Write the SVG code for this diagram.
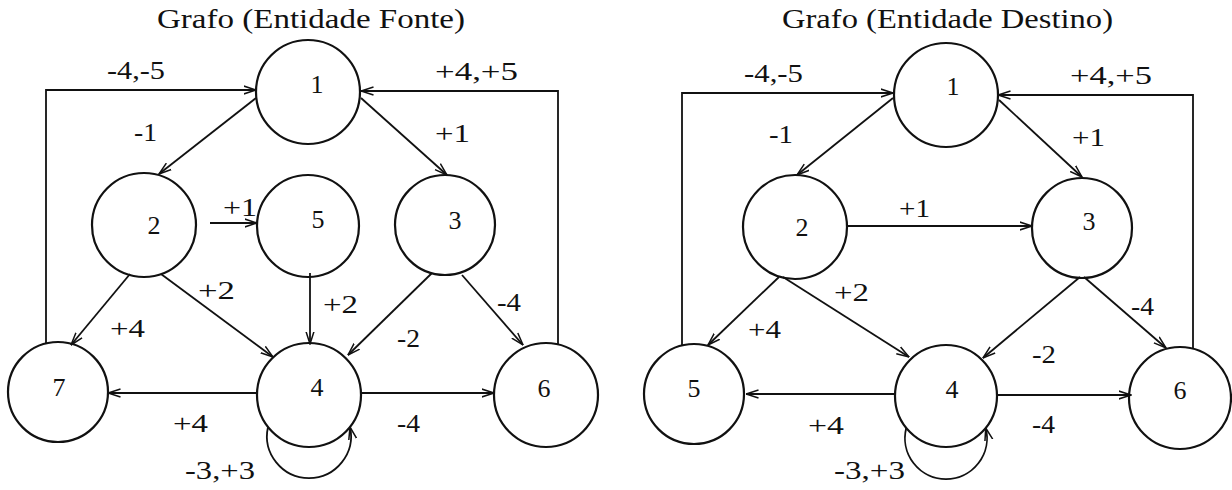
<svg xmlns="http://www.w3.org/2000/svg" width="1232" height="490" viewBox="0 0 1232 490">
<defs>
<style>
.node{fill:none;stroke:#111;stroke-width:2.2}
.edge{fill:none;stroke:#111;stroke-width:1.8;marker-end:url(#arr)}
text{font-family:"Liberation Serif","Times New Roman",serif;fill:#111}
.title{font-size:27px}
.lbl{font-size:26px}
.num{font-size:26px;text-anchor:middle}
</style>
<marker id="arr" viewBox="0 0 13 10" refX="12.5" refY="5" markerWidth="13" markerHeight="10" markerUnits="userSpaceOnUse" orient="auto">
<path d="M0,1 L12.5,5 L0,9" fill="none" stroke="#111" stroke-width="1.5"/>
</marker>
</defs>
<rect width="1232" height="490" fill="#ffffff"/>

<text class="title" x="157" y="28" textLength="308" lengthAdjust="spacingAndGlyphs">Grafo (Entidade Fonte)</text>
<text class="title" x="782" y="28" textLength="331" lengthAdjust="spacingAndGlyphs">Grafo (Entidade Destino)</text>

<g id="connectors">
<path class="edge" d="M46,344 V90 H256"/>
<path class="edge" d="M558,345 V91 H361"/>
<path class="edge" d="M256,98 L159,174"/>
<path class="edge" d="M361,98 L447,175"/>
<path class="edge" d="M210,223 L257,223"/>
<path class="edge" d="M130,274 L71,345"/>
<path class="edge" d="M161,274 L273,357"/>
<path class="edge" d="M310,273 L310,344"/>
<path class="edge" d="M432,273 L348,355"/>
<path class="edge" d="M462,275 L523,345"/>
<path class="edge" d="M257,393 L108,393"/>
<path class="edge" d="M361,393 L494,393"/>
<path class="edge" d="M268,427 A42,42 0 1 0 350,427"/>
<path class="edge" d="M682,345 V93 H893"/>
<path class="edge" d="M1193,348 V95 H998"/>
<path class="edge" d="M893,98 L797,175"/>
<path class="edge" d="M999,100 L1082,177"/>
<path class="edge" d="M848,226 L1032,226"/>
<path class="edge" d="M779,277 L708,345"/>
<path class="edge" d="M783,277 L909,357"/>
<path class="edge" d="M1080,277 L983,358"/>
<path class="edge" d="M1084,277 L1166,348"/>
<path class="edge" d="M894,394 L746,394"/>
<path class="edge" d="M998,395 L1131,395"/>
<path class="edge" d="M906.25,428 A41,41 0 1 0 985.75,428"/>
</g>

<g id="edge-labels">
<text class="lbl" x="107" y="79" textLength="58" lengthAdjust="spacingAndGlyphs">-4,-5</text>
<text class="lbl" x="435" y="80" textLength="83" lengthAdjust="spacingAndGlyphs">+4,+5</text>
<text class="lbl" x="134" y="141" textLength="23" lengthAdjust="spacingAndGlyphs">-1</text>
<text class="lbl" x="435" y="142" textLength="35" lengthAdjust="spacingAndGlyphs">+1</text>
<text class="lbl" x="223" y="216" textLength="34" lengthAdjust="spacingAndGlyphs">+1</text>
<text class="lbl" x="110" y="337" textLength="35" lengthAdjust="spacingAndGlyphs">+4</text>
<text class="lbl" x="198" y="299" textLength="37" lengthAdjust="spacingAndGlyphs">+2</text>
<text class="lbl" x="323" y="313" textLength="35" lengthAdjust="spacingAndGlyphs">+2</text>
<text class="lbl" x="397" y="347" textLength="23" lengthAdjust="spacingAndGlyphs">-2</text>
<text class="lbl" x="497" y="311" textLength="24" lengthAdjust="spacingAndGlyphs">-4</text>
<text class="lbl" x="173" y="432" textLength="35" lengthAdjust="spacingAndGlyphs">+4</text>
<text class="lbl" x="397" y="432" textLength="23" lengthAdjust="spacingAndGlyphs">-4</text>
<text class="lbl" x="185" y="479" textLength="70" lengthAdjust="spacingAndGlyphs">-3,+3</text>
<text class="lbl" x="744" y="82" textLength="59" lengthAdjust="spacingAndGlyphs">-4,-5</text>
<text class="lbl" x="1070" y="84" textLength="82" lengthAdjust="spacingAndGlyphs">+4,+5</text>
<text class="lbl" x="769" y="143" textLength="24" lengthAdjust="spacingAndGlyphs">-1</text>
<text class="lbl" x="1072" y="146" textLength="33" lengthAdjust="spacingAndGlyphs">+1</text>
<text class="lbl" x="899" y="217" textLength="31" lengthAdjust="spacingAndGlyphs">+1</text>
<text class="lbl" x="748" y="338" textLength="33" lengthAdjust="spacingAndGlyphs">+4</text>
<text class="lbl" x="834" y="301" textLength="35" lengthAdjust="spacingAndGlyphs">+2</text>
<text class="lbl" x="1032" y="363" textLength="24" lengthAdjust="spacingAndGlyphs">-2</text>
<text class="lbl" x="1131" y="315" textLength="23" lengthAdjust="spacingAndGlyphs">-4</text>
<text class="lbl" x="808" y="434" textLength="36" lengthAdjust="spacingAndGlyphs">+4</text>
<text class="lbl" x="1032" y="433" textLength="23" lengthAdjust="spacingAndGlyphs">-4</text>
<text class="lbl" x="834" y="479" textLength="71" lengthAdjust="spacingAndGlyphs">-3,+3</text>
</g>

<g id="L1"><circle class="node" cx="308" cy="92" r="52"/><text class="num" x="317" y="93">1</text></g>
<g id="L2"><circle class="node" cx="144" cy="225" r="52"/><text class="num" x="154" y="234">2</text></g>
<g id="L5"><circle class="node" cx="308" cy="226" r="51"/><text class="num" x="318" y="228">5</text></g>
<g id="L3"><circle class="node" cx="445" cy="225" r="50"/><text class="num" x="455" y="229">3</text></g>
<g id="L7"><circle class="node" cx="58" cy="392" r="50"/><text class="num" x="59" y="396">7</text></g>
<g id="L4"><circle class="node" cx="309" cy="395" r="52"/><text class="num" x="317" y="396">4</text></g>
<g id="L6"><circle class="node" cx="546" cy="395" r="52"/><text class="num" x="544" y="397">6</text></g>

<g id="R1"><circle class="node" cx="946" cy="95" r="52"/><text class="num" x="953" y="95">1</text></g>
<g id="R2"><circle class="node" cx="795" cy="227" r="52"/><text class="num" x="802" y="236">2</text></g>
<g id="R3"><circle class="node" cx="1082" cy="228" r="50"/><text class="num" x="1089" y="230">3</text></g>
<g id="R5"><circle class="node" cx="694" cy="394" r="50"/><text class="num" x="694" y="397">5</text></g>
<g id="R4"><circle class="node" cx="946" cy="396" r="51"/><text class="num" x="952" y="398">4</text></g>
<g id="R6"><circle class="node" cx="1180" cy="398" r="51"/><text class="num" x="1180" y="399">6</text></g>
</svg>
